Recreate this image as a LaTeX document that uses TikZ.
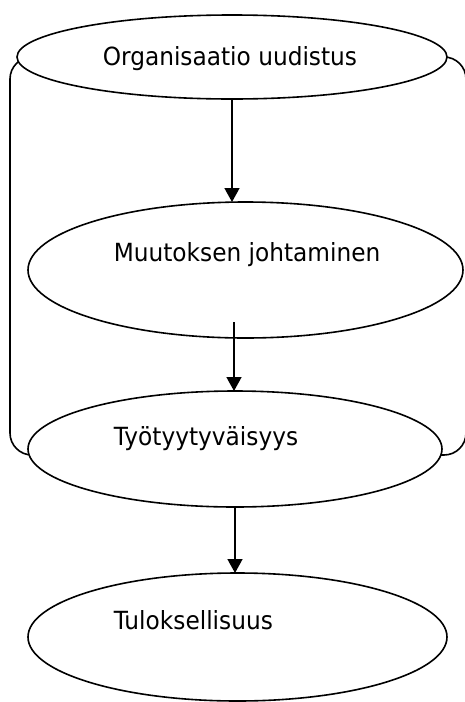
\documentclass[tikz,border=0pt]{standalone}
\usepackage{fontspec}
\setmainfont{DejaVu Sans}[FakeStretch=0.93]
\usetikzlibrary{shapes.geometric,arrows.meta}
\begin{document}
\begin{tikzpicture}[x=1pt,y=-1pt,line width=1.6pt,
  oval/.style={ellipse,draw,fill=white,inner sep=0pt,outer sep=0pt},
  lbl/.style={anchor=base west,inner sep=0pt,font=\fontsize{25}{30}\selectfont},
  arr/.style={-{Triangle[width=15pt,length=14pt]}}]
\useasboundingbox (0,0) rectangle (464,702);
% rounded frame behind the upper three ovals
\draw[rounded corners=22pt] (10,57) rectangle (466,455);
% ovals
\node[oval,minimum width=430pt,minimum height=84pt]  (org)   at (232,57)    {};
\node[oval,minimum width=435pt,minimum height=136pt] (muut)  at (245.5,270) {};
\node[oval,minimum width=414pt,minimum height=116pt] (tyo)   at (235,449)   {};
\node[oval,minimum width=419pt,minimum height=128pt] (tulos) at (237.5,637) {};
% texts
\node[lbl] (torg)   at (102,65)  {Organisaatio uudistus};
\node[lbl] (tmuut)  at (113,261) {Muutoksen johtaminen};
\node[lbl] (ttyo)   at (113,445) {Työtyytyväisyys};
\node[lbl] (ttulos) at (113,629) {Tuloksellisuus};
% arrows
\coordinate (a2) at (234,322);
\draw[arr] (org.south) -- (org.south |- muut.north);
\draw[arr] (a2) -- (a2 |- tyo.north);
\draw[arr] (tyo.south) -- (tyo.south |- tulos.north);
\end{tikzpicture}
\end{document}
